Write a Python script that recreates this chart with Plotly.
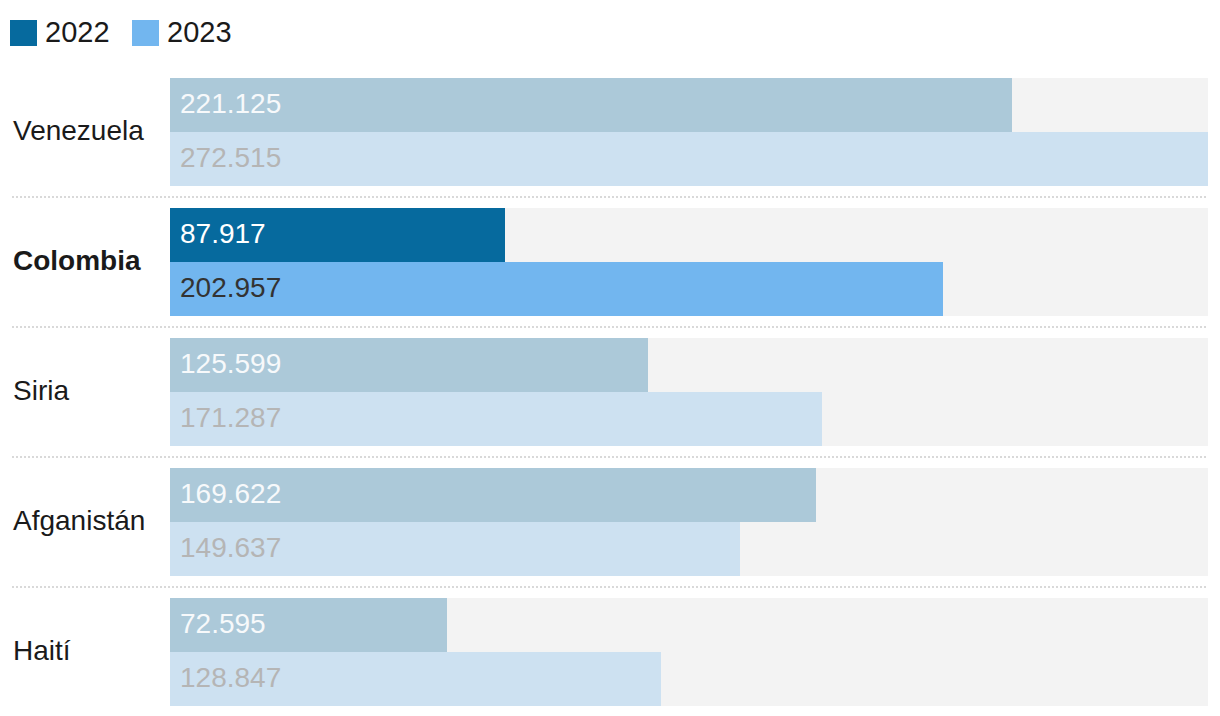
import plotly.graph_objects as go

countries = ["Venezuela", "Colombia", "Siria", "Afganistán", "Haití"]
values_2022 = [221125, 87917, 125599, 169622, 72595]
values_2023 = [272515, 202957, 171287, 149637, 128847]
labels_2022 = ["221.125", "87.917", "125.599", "169.622", "72.595"]
labels_2023 = ["272.515", "202.957", "171.287", "149.637", "128.847"]
highlight = "Colombia"
years = ["2022", "2023"]

C22 = "#066a9e"
C23 = "#72b6ef"
F22 = "#acc9d9"
F23 = "#cde1f1"
BG = "#f3f3f3"

GROUP = 130
BAR = 54
xmax = max(max(values_2022), max(values_2023))
n = len(countries)

y22 = [GROUP * i + BAR / 2 for i in range(n)]
y23 = [GROUP * i + BAR * 1.5 for i in range(n)]
ybg = [GROUP * i + BAR for i in range(n)]

col22 = [C22 if c == highlight else F22 for c in countries]
col23 = [C23 if c == highlight else F23 for c in countries]

fig = go.Figure()
fig.add_trace(go.Bar(x=[xmax] * n, y=ybg, width=[2 * BAR] * n, orientation="h",
                     marker=dict(color=BG, line=dict(width=0)), hoverinfo="skip", showlegend=False))
fig.add_trace(go.Bar(x=values_2022, y=y22, width=[BAR] * n, orientation="h",
                     marker=dict(color=col22, line=dict(width=0)), hoverinfo="skip", showlegend=False))
fig.add_trace(go.Bar(x=values_2023, y=y23, width=[BAR] * n, orientation="h",
                     marker=dict(color=col23, line=dict(width=0)), hoverinfo="skip", showlegend=False))

FONT = "Liberation Sans"
PW = 1038
ann = []
for i, c in enumerate(countries):
    hl = c == highlight
    ann.append(dict(x=0, y=y22[i], xref="x", yref="y", text=labels_2022[i], showarrow=False,
                    xanchor="left", xshift=8, yshift=2,
                    font=dict(family=FONT, size=28, color="#ffffff" if hl else "#f7f9fb")))
    ann.append(dict(x=0, y=y23[i], xref="x", yref="y", text=labels_2023[i], showarrow=False,
                    xanchor="left", xshift=8, yshift=2,
                    font=dict(family=FONT, size=28, color="#333333" if hl else "#b5b5b5")))
    label = f"<b>{c}</b>" if hl else c
    ann.append(dict(x=(11 - 170) / PW, y=ybg[i], xref="paper", yref="y", text=label, showarrow=False,
                    xanchor="left", yshift=2,
                    font=dict(family=FONT, size=28, color="#1a1a1a")))

shapes = []
for i in range(1, n):
    yy = GROUP * i - 11
    shapes.append(dict(type="line", xref="paper", yref="y", x0=(12 - 170) / PW, x1=1, y0=yy, y1=yy,
                       line=dict(color="#d9d9d9", width=2, dash="2px,2px")))

# legend (custom)
leg_x = [10, 132]
leg_cols = [C22, C23]
for k, yr in enumerate(years):
    x0 = (leg_x[k] - 170) / PW
    x1 = (leg_x[k] + 27 - 170) / PW
    shapes.append(dict(type="rect", xref="paper", yref="paper", x0=x0, x1=x1,
                       y0=(628 + 78 - 20) / 628, y1=(628 + 78 - 46) / 628,
                       fillcolor=leg_cols[k], line=dict(width=0)))
    ann.append(dict(x=(leg_x[k] + 33 - 170) / PW, y=(628 + 78 - 32) / 628, xref="paper", yref="paper",
                    text=yr, showarrow=False, xanchor="left", yanchor="middle",
                    font=dict(family=FONT, size=29, color="#1a1a1a")))

fig.update_layout(
    width=1220, height=716,
    margin=dict(l=162, r=20, t=70, b=18),
    paper_bgcolor="white", plot_bgcolor="white",
    barmode="overlay", bargap=0,
    xaxis=dict(range=[0, xmax], visible=False, fixedrange=True),
    yaxis=dict(range=[GROUP * (n - 1) + 2 * BAR, 0], visible=False, fixedrange=True),
    annotations=ann, shapes=shapes, showlegend=False,
)
fig.write_html("out.html")
